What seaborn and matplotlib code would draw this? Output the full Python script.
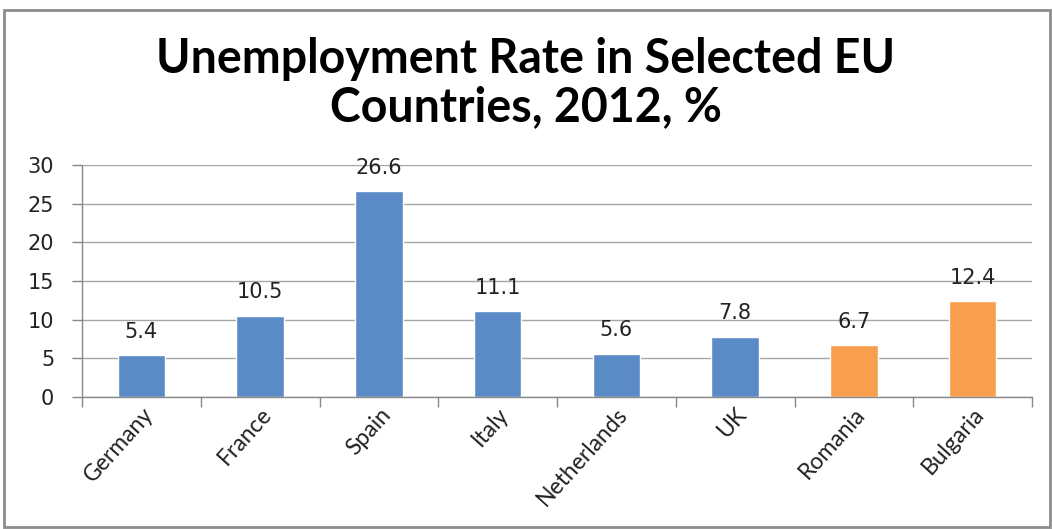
import matplotlib
matplotlib.use("Agg")
import matplotlib.pyplot as plt
from matplotlib.patches import Rectangle
import seaborn as sns
import pandas as pd

countries = ["Germany", "France", "Spain", "Italy", "Netherlands", "UK", "Romania", "Bulgaria"]
rates = [5.4, 10.5, 26.6, 11.1, 5.6, 7.8, 6.7, 12.4]
groups = ["old", "old", "old", "old", "old", "old", "new", "new"]
y_ticks = [0, 5, 10, 15, 20, 25, 30]
title = "Unemployment Rate in Selected EU\nCountries, 2012, %"

palette = {"old": "#5B8BC6", "new": "#F79F4F"}

df = pd.DataFrame({"country": countries, "rate": rates, "group": groups})

sns.set_theme(style="white")
plt.rcParams["font.family"] = ["DejaVu Sans"]

fig = plt.figure(figsize=(10.52, 5.29), dpi=100)
ax = fig.add_axes([0.078, 0.2495, 0.903, 0.4385])

sns.barplot(data=df, x="country", y="rate", hue="group", palette=palette,
            dodge=False, width=0.4, legend=False, ax=ax, saturation=1)

ax.set_ylim(0, 30)
ax.set_xlim(-0.5, len(countries) - 0.5)
ax.set_yticks(y_ticks)
ax.set_yticklabels([str(t) for t in y_ticks], fontsize=15, color="#222222")
ax.yaxis.grid(True, color="#A6A6A6", linewidth=1)
ax.set_axisbelow(True)
ax.set_xlabel("")
ax.set_ylabel("")

# category separators as ticks on the bottom axis
ax.set_xticks([i - 0.5 for i in range(len(countries) + 1)], minor=True)
ax.tick_params(axis="x", which="minor", direction="out", length=7, color="#888888", width=1, bottom=True)
ax.tick_params(axis="x", which="major", length=0, pad=5)
ax.tick_params(axis="y", direction="out", length=7, color="#888888", width=1, left=True, pad=13)
ax.set_xticks(range(len(countries)))
ax.set_xticklabels(countries, rotation=48, ha="right", rotation_mode="anchor",
                   fontsize=16.5, color="#222222", family=["Lato", "DejaVu Sans"])

for i, v in enumerate(rates):
    ax.annotate(f"{v}", (i, v), xytext=(0, 17), textcoords="offset points",
                ha="center", va="center", fontsize=15, color="#222222")

for side in ["top", "right"]:
    ax.spines[side].set_visible(False)
for side in ["left", "bottom"]:
    ax.spines[side].set_color("#888888")
    ax.spines[side].set_linewidth(1)

fig.text(0.5, 0.843, title, ha="center", va="center", fontsize=33.5,
         fontweight="bold", family=["Lato", "DejaVu Sans"], linespacing=1.12,
         color="black")

fig.patches.append(Rectangle((0.004, 0.004), 0.994, 0.978, transform=fig.transFigure,
                             fill=False, edgecolor="#8C8C8C", linewidth=2))

fig.savefig("out.png", dpi=100, facecolor="white")
